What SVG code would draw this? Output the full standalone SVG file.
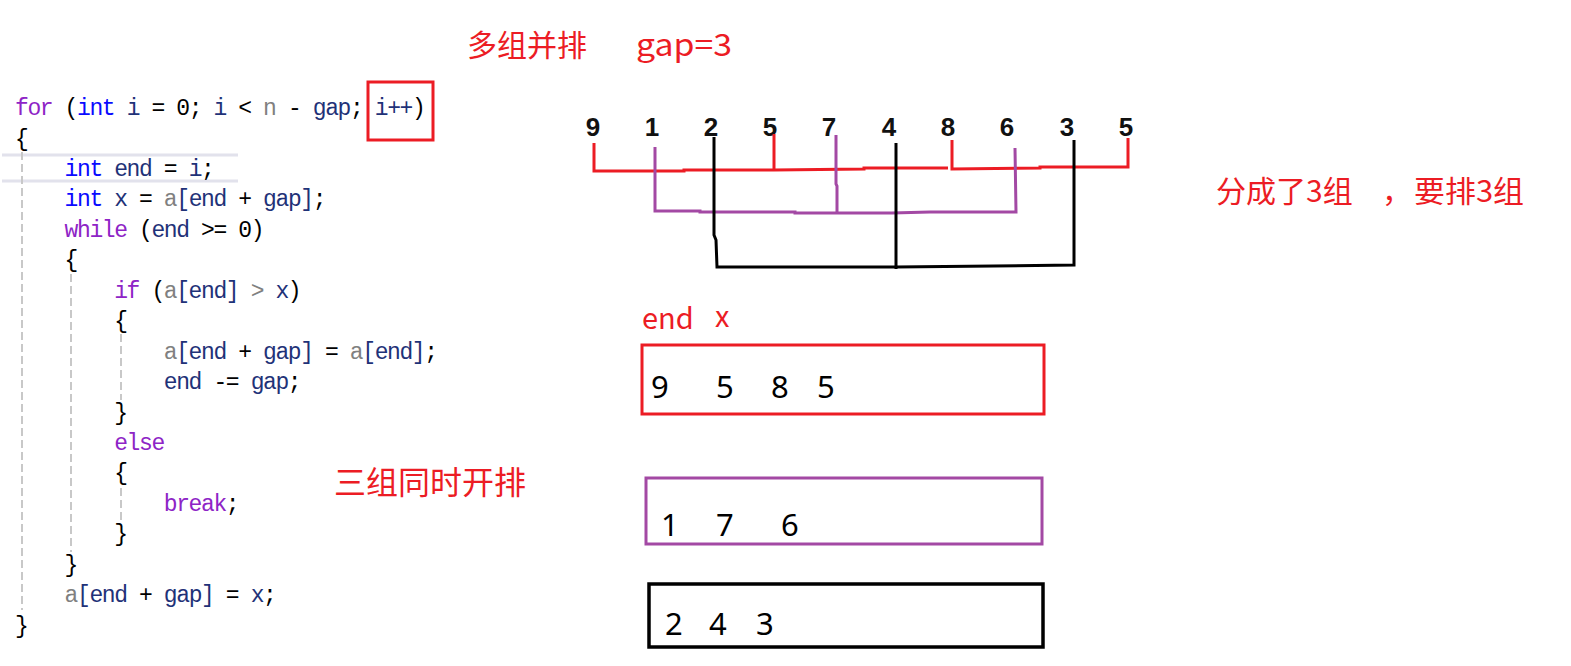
<svg xmlns="http://www.w3.org/2000/svg" width="1571" height="666" viewBox="0 0 1571 666">
<style>
.code{font-family:"Liberation Mono","DejaVu Sans Mono",monospace;font-size:23px;letter-spacing:-1.4px;fill:#000}
.kw{fill:#8e24c6}.ty{fill:#0a0aff}.id{fill:#1f3278}.gr{fill:#808080}
.cjk{font-family:"Noto Sans CJK SC","Noto Sans",sans-serif;fill:#ec1c24}
.dig{font-family:"Liberation Sans",Arial,sans-serif;font-weight:bold;font-size:26px;fill:#111;text-anchor:middle}
.num{font-family:"Noto Sans","Open Sans",sans-serif;font-size:31px;fill:#000}
.guide{stroke:#c8c8c8;stroke-width:2;stroke-dasharray:8,4;fill:none}
.red{stroke:#ec1c24;stroke-width:3;fill:none}
.pur{stroke:#a349a4;stroke-width:3;fill:none}
.blk{stroke:#000;stroke-width:3;fill:none}
</style>
<rect width="1571" height="666" fill="#fff"/>
<g id="code">
<line x1="2" y1="155" x2="238" y2="155" stroke="#e2e2ec" stroke-width="3"/>
<line x1="2" y1="181" x2="238" y2="181" stroke="#e2e2ec" stroke-width="3"/>
<line class="guide" x1="22" y1="152" x2="22" y2="610"/>
<line class="guide" x1="71" y1="262" x2="71" y2="552"/>
<line class="guide" x1="121" y1="334" x2="121" y2="400"/>
<line class="guide" x1="121" y1="488" x2="121" y2="524"/>
<text class="code" xml:space="preserve" x="15" y="115"><tspan class="kw">for</tspan> (<tspan class="ty">int</tspan> <tspan class="id">i</tspan> = 0; <tspan class="id">i</tspan> &lt; <tspan class="gr">n</tspan> - <tspan class="id">gap</tspan>; <tspan class="id">i++</tspan>)</text>
<text class="code" xml:space="preserve" x="15" y="145.5">{</text>
<text class="code" xml:space="preserve" x="64.6" y="176"><tspan class="ty">int</tspan> <tspan class="id">end</tspan> = <tspan class="id">i</tspan>;</text>
<text class="code" xml:space="preserve" x="64.6" y="206.4"><tspan class="ty">int</tspan> <tspan class="id">x</tspan> = <tspan class="gr">a</tspan><tspan class="id">[end</tspan> + <tspan class="id">gap]</tspan>;</text>
<text class="code" xml:space="preserve" x="64.6" y="236.8"><tspan class="kw">while</tspan> (<tspan class="id">end</tspan> &gt;= 0)</text>
<text class="code" xml:space="preserve" x="64.6" y="267.3">{</text>
<text class="code" xml:space="preserve" x="114.2" y="297.7"><tspan class="kw">if</tspan> (<tspan class="gr">a</tspan><tspan class="id">[end]</tspan> <tspan class="gr">&gt;</tspan> <tspan class="id">x</tspan>)</text>
<text class="code" xml:space="preserve" x="114.2" y="328.2">{</text>
<text class="code" xml:space="preserve" x="163.8" y="358.6"><tspan class="gr">a</tspan><tspan class="id">[end</tspan> + <tspan class="id">gap]</tspan> = <tspan class="gr">a</tspan><tspan class="id">[end]</tspan>;</text>
<text class="code" xml:space="preserve" x="163.8" y="389"><tspan class="id">end</tspan> -= <tspan class="id">gap</tspan>;</text>
<text class="code" xml:space="preserve" x="114.2" y="419.5">}</text>
<text class="code" xml:space="preserve" x="114.2" y="450"><tspan class="kw">else</tspan></text>
<text class="code" xml:space="preserve" x="114.2" y="480.4">{</text>
<text class="code" xml:space="preserve" x="163.8" y="510.9"><tspan class="kw">break</tspan>;</text>
<text class="code" xml:space="preserve" x="114.2" y="541.3">}</text>
<text class="code" xml:space="preserve" x="64.6" y="571.7">}</text>
<text class="code" xml:space="preserve" x="64.6" y="602.2"><tspan class="gr">a</tspan><tspan class="id">[end</tspan> + <tspan class="id">gap]</tspan> = <tspan class="id">x</tspan>;</text>
<text class="code" xml:space="preserve" x="15" y="632.6">}</text>
<rect x="368" y="82" width="65" height="58" fill="none" stroke="#ec1c24" stroke-width="3"/>
</g>
<g id="labels">
<text class="cjk" x="467" y="56" font-size="30">多组并排</text>
<text class="cjk" x="636" y="56" font-size="31" textLength="96" lengthAdjust="spacingAndGlyphs">gap=3</text>
<text class="cjk" x="1216" y="202" font-size="30">分成了3组</text>
<text class="cjk" x="1382" y="202" font-size="30">，</text>
<text class="cjk" x="1414" y="202" font-size="30" textLength="110" lengthAdjust="spacingAndGlyphs">要排3组</text>
<text class="cjk" x="334" y="494" font-size="32">三组同时开排</text>
<text class="cjk" x="642" y="329" font-size="29">end</text>
<text class="cjk" x="715" y="327" font-size="29">x</text>
</g>
<g id="digits">
<text class="dig" x="593" y="136">9</text>
<text class="dig" x="652" y="136">1</text>
<text class="dig" x="711" y="136">2</text>
<text class="dig" x="770" y="136">5</text>
<text class="dig" x="829" y="136">7</text>
<text class="dig" x="889" y="136">4</text>
<text class="dig" x="948" y="136">8</text>
<text class="dig" x="1007" y="136">6</text>
<text class="dig" x="1067" y="136">3</text>
<text class="dig" x="1126" y="136">5</text>
</g>
<g id="connectors">
<polyline class="red" points="594,143 594,171 684,171 684,170 774,170 864,169 864,168 948,168"/>
<line class="red" x1="774" y1="134" x2="774" y2="170"/>
<polyline class="red" points="952,140 952,169 1040,168 1040,167 1128,167 1128,138"/>
<polyline class="pur" points="655,147 655,211 700,211 700,212 795,212 795,213 892,213 930,212 1016,212 1015,148"/>
<polyline class="pur" points="836,135 836,184 837,186 837,214"/>
<polyline class="blk" points="714,137 714,235 716,240 717,267 896,267 1074,265 1074,140"/>
<line class="blk" x1="896" y1="143" x2="896" y2="269"/>
</g>
<g id="box-red">
<rect x="642" y="345" width="402" height="69" fill="none" stroke="#ec1c24" stroke-width="3"/>
<text class="num" x="651" y="398">9</text>
<text class="num" x="716" y="398">5</text>
<text class="num" x="771" y="398">8</text>
<text class="num" x="817" y="398">5</text>
</g>
<g id="box-purple">
<rect x="646" y="478" width="396" height="66" fill="none" stroke="#a349a4" stroke-width="3"/>
<text class="num" x="661" y="536">1</text>
<text class="num" x="716" y="536">7</text>
<text class="num" x="781" y="536">6</text>
</g>
<g id="box-black">
<rect x="649" y="584" width="394" height="63" fill="none" stroke="#000" stroke-width="3.5"/>
<text class="num" x="665" y="635">2</text>
<text class="num" x="709" y="635">4</text>
<text class="num" x="756" y="635">3</text>
</g>
</svg>
